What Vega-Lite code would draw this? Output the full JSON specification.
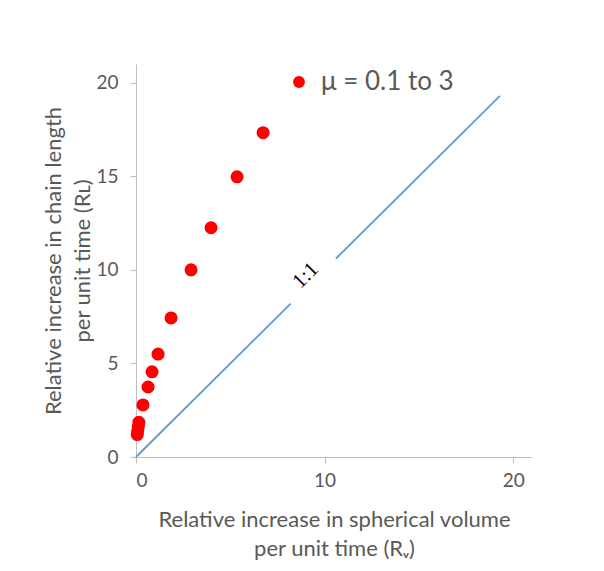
{
  "$schema": "https://vega.github.io/schema/vega-lite/v6.json",
  "width": 396,
  "height": 393,
  "autosize": {"type": "none"},
  "padding": {"left": 136, "top": 64, "right": 72, "bottom": 114},
  "background": "white",
  "config": {
    "view": {"stroke": null},
    "font": "Lato",
    "axis": {
      "grid": false,
      "domainColor": "#bfbfbf",
      "tickColor": "#bfbfbf",
      "tickSize": 6,
      "labelFont": "Lato",
      "labelFontSize": 19,
      "labelColor": "#595959",
      "titleFont": "Lato",
      "titleFontSize": 22,
      "titleFontWeight": "normal",
      "titleColor": "#595959",
      "titleLineHeight": 29
    }
  },
  "datasets": {
    "pts": [
      {"rv": 0.07, "rl": 1.2, "series": "μ = 0.1 to 3"},
      {"rv": 0.09, "rl": 1.4, "series": "μ = 0.1 to 3"},
      {"rv": 0.12, "rl": 1.6, "series": "μ = 0.1 to 3"},
      {"rv": 0.15, "rl": 1.85, "series": "μ = 0.1 to 3"},
      {"rv": 0.37, "rl": 2.78, "series": "μ = 0.1 to 3"},
      {"rv": 0.64, "rl": 3.74, "series": "μ = 0.1 to 3"},
      {"rv": 0.85, "rl": 4.55, "series": "μ = 0.1 to 3"},
      {"rv": 1.17, "rl": 5.5, "series": "μ = 0.1 to 3"},
      {"rv": 1.86, "rl": 7.43, "series": "μ = 0.1 to 3"},
      {"rv": 2.92, "rl": 10.0, "series": "μ = 0.1 to 3"},
      {"rv": 3.98, "rl": 12.25, "series": "μ = 0.1 to 3"},
      {"rv": 5.36, "rl": 14.97, "series": "μ = 0.1 to 3"},
      {"rv": 6.74, "rl": 17.33, "series": "μ = 0.1 to 3"}
    ],
    "line": [
      {"rv": 0, "rl": 0, "seg": "a"},
      {"rv": 8.2, "rl": 8.2, "seg": "a"},
      {"rv": 10.6, "rl": 10.6, "seg": "b"},
      {"rv": 19.3, "rl": 19.3, "seg": "b"}
    ],
    "label": [
      {"rv": 9.0, "rl": 9.7, "text": "1:1"}
    ]
  },
  "layer": [
    {
      "data": {"name": "line"},
      "mark": {"type": "line", "color": "#5B9BD5", "strokeWidth": 1.8},
      "encoding": {
        "x": {"field": "rv", "type": "quantitative", "scale": {"domain": [0, 21], "nice": false},
              "axis": {"values": [0, 10, 20], "labelPadding": 8, "titlePadding": 19,
                       "title": ["Relative increase in spherical volume", "per unit time (Rᵥ)"]}},
        "y": {"field": "rl", "type": "quantitative", "scale": {"domain": [0, 21], "nice": false},
              "axis": {"values": [0, 5, 10, 15, 20], "labelPadding": 12, "titlePadding": 1,
                       "title": ["Relative increase in chain length", "per unit time (Rʟ)"]}},
        "detail": {"field": "seg", "type": "nominal"}
      }
    },
    {
      "data": {"name": "pts"},
      "mark": {"type": "circle", "size": 170, "opacity": 1},
      "encoding": {
        "x": {"field": "rv", "type": "quantitative"},
        "y": {"field": "rl", "type": "quantitative"},
        "color": {"field": "series", "type": "nominal", "scale": {"range": ["#FF0000"]},
                  "legend": {"title": null, "orient": "none", "legendX": 150, "legendY": 5,
                             "symbolSize": 140, "symbolType": "circle", "labelFontSize": 26,
                             "labelColor": "#595959", "labelFont": "Lato", "labelOffset": 9}}
      }
    },
    {
      "data": {"name": "label"},
      "mark": {"type": "text", "angle": 315, "font": "Liberation Serif", "fontSize": 21, "color": "black"},
      "encoding": {
        "x": {"field": "rv", "type": "quantitative"},
        "y": {"field": "rl", "type": "quantitative"},
        "text": {"field": "text", "type": "nominal"}
      }
    }
  ]
}
